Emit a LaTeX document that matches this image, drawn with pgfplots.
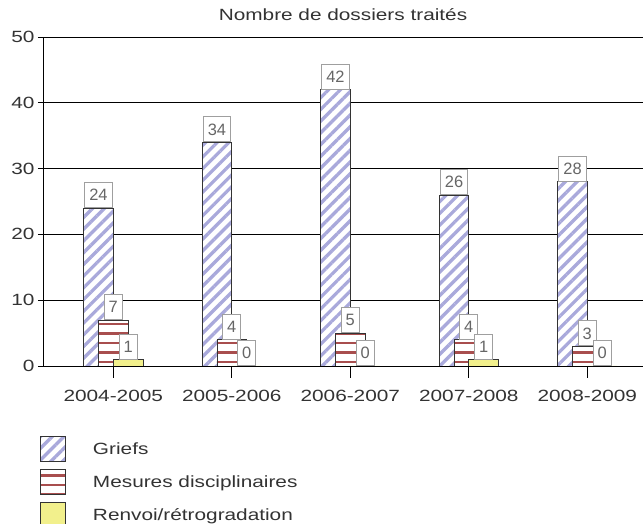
\documentclass[border=0pt]{standalone}
\usepackage{fontspec}
\setmainfont[FakeStretch=1.28]{Liberation Sans}
\newfontfamily\boxfont{Liberation Sans}
\usepackage{pgfplots}
\pgfplotsset{compat=1.18}
\usetikzlibrary{patterns,patterns.meta}
\pgfdeclarepatternformonly{hstripes}{\pgfqpoint{-1pt}{-1pt}}{\pgfqpoint{11pt}{10.5pt}}{\pgfqpoint{10pt}{9.5pt}}{%
  \pgfpathrectangle{\pgfqpoint{-1pt}{0pt}}{\pgfqpoint{12pt}{2.4pt}}\pgfusepath{fill}}
\definecolor{griefs}{HTML}{A9A9DB}
\definecolor{mesures}{HTML}{A84E4E}
\definecolor{renvoi}{HTML}{F2F08C}
\definecolor{txt}{HTML}{333333}
\begin{document}
\begin{tikzpicture}[x=1bp,y=1bp]
\begin{axis}[
  at={(43bp,158bp)}, anchor=south west,
  scale only axis, width=600bp, height=329bp,
  xmin=-0.593, xmax=4.47, ymin=0, ymax=50,
  axis lines=left, axis line style={-, black, line width=0.8bp},
  ytick={0,10,...,50}, xtick={0,...,4},
  xticklabels={2004-2005,2005-2006,2006-2007,2007-2008,2008-2009},
  ymajorgrids, grid style={black, line width=0.8bp},
  tick align=outside, major tick length=5bp,
  tick style={black, line width=0.8bp},
  xtick style={/pgfplots/major tick length=12bp},
  ticklabel style={font=\fontsize{16.3}{18}\selectfont, text=txt},
  xticklabel style={anchor=base, yshift=-31bp},
  /pgf/number format/assume math mode=true,
  title={Nombre de dossiers traités},
  title style={font=\fontsize{16.3}{18}\selectfont, text=txt, at={(0.5,1)}, anchor=base, yshift=11bp},
  every node near coord/.append style={draw=gray!75, fill=white, text=gray!80!black,
     inner xsep=4.5bp, inner ysep=0bp, minimum height=25bp, anchor=south,
     font=\boxfont\fontsize{16.5}{18}\selectfont, line width=0.8bp},
  legend style={at={(-0.005,-0.2128)}, anchor=north west, draw=none, fill=none,
     font=\fontsize{16.3}{18}\selectfont, text=txt, row sep=7bp, column sep=27bp,
     inner sep=0pt, nodes={inner sep=0pt}},
  legend cell align=left,
  legend image code/.code={\draw[#1,/tikz/.cd] (0bp,-12bp) rectangle (25bp,13bp);},
]
\addplot[ybar, bar width=0.25, bar shift=-0.125, draw=black!80, line width=0.8bp,
  preaction={fill=white},
  pattern={Lines[angle=45,distance=8.3bp,line width=3.3bp]}, pattern color=griefs,
  nodes near coords, every node near coord/.append style={xshift=-14.8bp}]
  coordinates {(0,24) (1,34) (2,42) (3,26) (4,28)};
\addlegendentry{Griefs}
\addplot[ybar, bar width=0.25, bar shift=0, draw=black!80, line width=0.8bp,
  preaction={fill=white},
  pattern=hstripes, pattern color=mesures,
  nodes near coords]
  coordinates {(0,7) (1,4) (2,5) (3,4) (4,3)};
\addlegendentry{Mesures disciplinaires}
\addplot[ybar, bar width=0.25, bar shift=0.125, draw=black!80, line width=0.8bp,
  fill=renvoi, nodes near coords, every node near coord/.append style={xshift=14.8bp}]
  coordinates {(0,1) (1,0) (2,0) (3,1) (4,0)};
\addlegendentry{Renvoi/rétrogradation}
\end{axis}
\pgfresetboundingbox
\path[use as bounding box] (0,0) rectangle (643,524);
\end{tikzpicture}
\end{document}
